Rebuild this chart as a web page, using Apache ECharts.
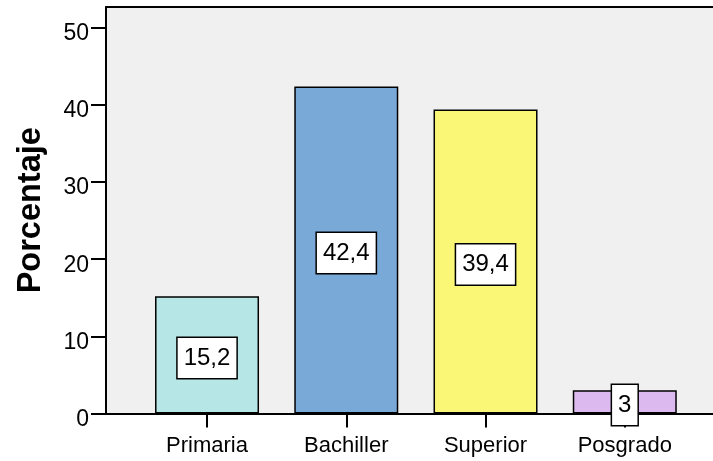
<!DOCTYPE html>
<html>
<head>
<meta charset="utf-8">
<script src="https://cdn.jsdelivr.net/npm/echarts@6/dist/echarts.min.js"></script>
<style>html,body{margin:0;padding:0;background:#fff;}#c{width:713px;height:461px;}</style>
</head>
<body>
<div id="c"></div>
<script>
const categories = ['Primaria', 'Bachiller', 'Superior', 'Posgrado'];
const values = [15.2, 42.4, 39.4, 3];
const yTicks = [0, 10, 20, 30, 40, 50];
const barColors = ['#b6e6e6', '#79a9d6', '#faf777', '#dcbaf0'];
const yName = 'Porcentaje';

const FONT = '"Liberation Sans", Arial, sans-serif';
const yMax = 52.7;
const chart = echarts.init(document.getElementById('c'));
chart.setOption({
  animation: false,
  backgroundColor: '#ffffff',
  grid: [
    { left: 106, right: 0, top: 7, bottom: 47.5, show: true, backgroundColor: '#f0f0f0', borderWidth: 0, containLabel: false, outerBoundsMode: 'none' },
    { left: 137.4, right: 18.6, top: 7, bottom: 47.5, show: false, containLabel: false, outerBoundsMode: 'none' }
  ],
  xAxis: [
    { gridIndex: 0, type: 'value', min: 0, max: 1, position: 'bottom',
      axisLine: { show: true, lineStyle: { color: '#000', width: 2 } },
      axisTick: { show: false }, axisLabel: { show: false }, splitLine: { show: false } },
    { gridIndex: 0, type: 'value', min: 0, max: 1, position: 'top',
      axisLine: { show: true, lineStyle: { color: '#000', width: 2 } },
      axisTick: { show: false }, axisLabel: { show: false }, splitLine: { show: false } },
    { gridIndex: 1, type: 'category', data: categories, position: 'bottom',
      axisLine: { show: false },
      axisTick: { show: true, alignWithLabel: true, length: 14, lineStyle: { color: '#000', width: 2 } },
      axisLabel: { color: '#000', fontSize: 22, fontFamily: FONT, margin: 21 },
      splitLine: { show: false } }
  ],
  yAxis: [
    { gridIndex: 0, type: 'value', min: 0, max: yMax, interval: 10,
      name: yName, nameLocation: 'middle', nameGap: 58,
      nameTextStyle: { color: '#000', fontSize: 32.5, fontWeight: 'bold', fontFamily: FONT },
      axisLine: { show: true, lineStyle: { color: '#000', width: 2 } },
      axisTick: { show: true, length: 15, customValues: yTicks, lineStyle: { color: '#000', width: 2 } },
      axisLabel: { color: '#000', fontSize: 23, fontFamily: FONT, margin: 17, customValues: yTicks,
                   verticalAlign: 'top', lineHeight: 12 },
      splitLine: { show: false } },
    { gridIndex: 1, type: 'value', min: 0, max: yMax, show: false, splitLine: { show: false } }
  ],
  series: [{
    type: 'bar',
    xAxisIndex: 2,
    yAxisIndex: 1,
    barWidth: 104,
    data: values.map((v, i) => ({ value: v, itemStyle: { color: barColors[i] } })),
    itemStyle: { borderColor: '#000', borderWidth: 1.5 },
    label: {
      show: true, position: 'inside', offset: [0, 3],
      formatter: p => String(p.value).replace('.', ','),
      color: '#000', fontSize: 24, fontFamily: FONT,
      backgroundColor: '#ffffff', borderColor: '#000', borderWidth: 1.5,
      padding: [8, 6, 8, 6]
    }
  }]
});
</script>
</body>
</html>
